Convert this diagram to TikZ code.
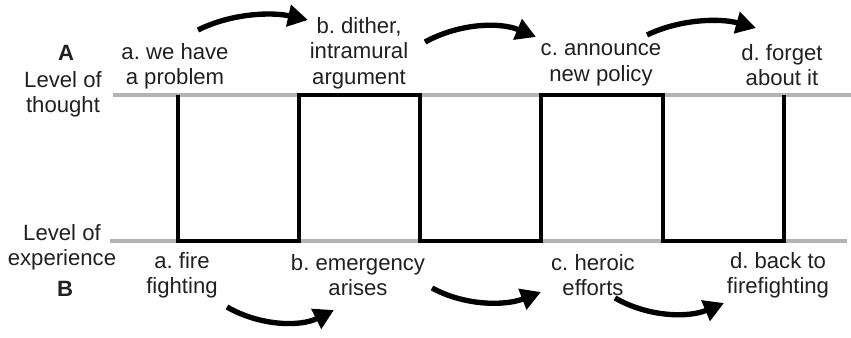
\documentclass[tikz,border=0pt]{standalone}
\usepackage{fontspec}
\setmainfont{Liberation Sans}
\usepackage{xcolor}
\usetikzlibrary{arrows.meta}
\definecolor{colorL}{HTML}{B3B3B3}
\definecolor{colorT}{HTML}{231F20}

\tikzset{
  lbl/.style={align=center, text=colorT, inner sep=0pt,
    font=\fontsize{16.6}{19}\selectfont\frenchspacing},
  flow/.style={line width=4pt, -{Triangle[length=15pt,width=16pt]}},
  level/.style={colorL, line width=3.2pt},
  wave/.style={black, line width=3.4pt, line join=miter}
}

\begin{document}
\begin{tikzpicture}[x=0.75pt, y=-0.75pt]
        \useasboundingbox (0,0) rectangle (851,338);

        % the two levels
        \draw[level] (113,95) -- (851,95);
        \draw[level] (110,241) -- (847,241);

        % square wave between them
        \draw[wave] (178,95) -- (178,241) -- (299,241) -- (299,95)
            -- (420,95) -- (420,241) -- (541,241) -- (541,95)
            -- (663,95) -- (663,241) -- (784,241) -- (784,95);

        % left side
        \node[lbl, font=\fontsize{16.6}{19}\selectfont\bfseries] (levA) at (66,53) {A};
        \node[lbl] (thought) at (63,94) {Level of\\thought};
        \node[lbl] (experience) at (62,247) {Level of\\experience};
        \node[lbl, font=\fontsize{16.6}{19}\selectfont\bfseries] (levB) at (65,289) {B};

        % level of thought
        \node[lbl] (ta) at (175,66) {a. we have\\a problem};
        \node[lbl] (tb) at (359,53) {b. dither,\\intramural\\argument};
        \node[lbl] (tc) at (601,65) {c. announce\\new policy};
        \node[lbl] (td) at (782,65) {d. forget\\about it};

        % level of experience
        \node[lbl] (ea) at (182,275) {a. fire\\fighting};
        \node[lbl] (eb) at (358,275) {b. emergency\\arises};
        \node[lbl] (ec) at (593,275) {c. heroic\\efforts};
        \node[lbl] (ed) at (778,275) {d. back to\\firefighting};

        % arrow ends
        \coordinate (ta1) at (198,30);  \coordinate (tb1) at (308,20);
        \coordinate (tb2) at (425,42);  \coordinate (tc1) at (536,37);
        \coordinate (tc2) at (647,35);  \coordinate (td1) at (756,28);
        \coordinate (ea1) at (227,307); \coordinate (eb1) at (334,310);
        \coordinate (eb2) at (432,288); \coordinate (ec1) at (541,292);
        \coordinate (ec2) at (615,298); \coordinate (ed1) at (724,303);

        \draw[flow] (ta1) .. controls (232,13) and (272,12) .. (tb1);
        \draw[flow] (tb2) .. controls (460,23) and (500,22) .. (tc1);
        \draw[flow] (tc2) .. controls (680,19) and (720,18) .. (td1);
        \draw[flow] (ea1) .. controls (260,326) and (300,327) .. (eb1);
        \draw[flow] (eb2) .. controls (465,306) and (505,306) .. (ec1);
        \draw[flow] (ec2) .. controls (648,317) and (688,318) .. (ed1);
    \end{tikzpicture}
\end{document}
